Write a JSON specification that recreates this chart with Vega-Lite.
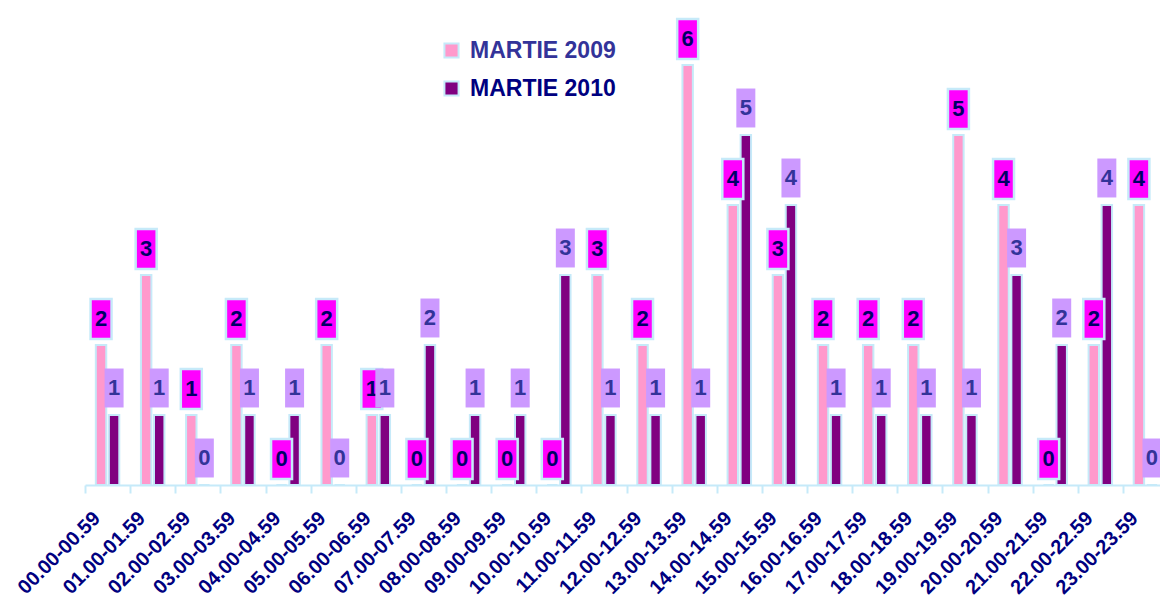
{
  "$schema": "https://vega.github.io/schema/vega-lite/v6.json",
  "autosize": "none",
  "width": 1075,
  "height": 480,
  "padding": {"left": 85, "top": 5, "right": 0, "bottom": 119},
  "background": "white",
  "config": {"view": {"stroke": null}, "font": "Liberation Sans"},
  "data": {"values": [
    {"h": "00.00-00.59", "s": "MARTIE 2009", "v": 2}, {"h": "00.00-00.59", "s": "MARTIE 2010", "v": 1},
    {"h": "01.00-01.59", "s": "MARTIE 2009", "v": 3}, {"h": "01.00-01.59", "s": "MARTIE 2010", "v": 1},
    {"h": "02.00-02.59", "s": "MARTIE 2009", "v": 1}, {"h": "02.00-02.59", "s": "MARTIE 2010", "v": 0},
    {"h": "03.00-03.59", "s": "MARTIE 2009", "v": 2}, {"h": "03.00-03.59", "s": "MARTIE 2010", "v": 1},
    {"h": "04.00-04.59", "s": "MARTIE 2009", "v": 0}, {"h": "04.00-04.59", "s": "MARTIE 2010", "v": 1},
    {"h": "05.00-05.59", "s": "MARTIE 2009", "v": 2}, {"h": "05.00-05.59", "s": "MARTIE 2010", "v": 0},
    {"h": "06.00-06.59", "s": "MARTIE 2009", "v": 1}, {"h": "06.00-06.59", "s": "MARTIE 2010", "v": 1},
    {"h": "07.00-07.59", "s": "MARTIE 2009", "v": 0}, {"h": "07.00-07.59", "s": "MARTIE 2010", "v": 2},
    {"h": "08.00-08.59", "s": "MARTIE 2009", "v": 0}, {"h": "08.00-08.59", "s": "MARTIE 2010", "v": 1},
    {"h": "09.00-09.59", "s": "MARTIE 2009", "v": 0}, {"h": "09.00-09.59", "s": "MARTIE 2010", "v": 1},
    {"h": "10.00-10.59", "s": "MARTIE 2009", "v": 0}, {"h": "10.00-10.59", "s": "MARTIE 2010", "v": 3},
    {"h": "11.00-11.59", "s": "MARTIE 2009", "v": 3}, {"h": "11.00-11.59", "s": "MARTIE 2010", "v": 1},
    {"h": "12.00-12.59", "s": "MARTIE 2009", "v": 2}, {"h": "12.00-12.59", "s": "MARTIE 2010", "v": 1},
    {"h": "13.00-13.59", "s": "MARTIE 2009", "v": 6}, {"h": "13.00-13.59", "s": "MARTIE 2010", "v": 1},
    {"h": "14.00-14.59", "s": "MARTIE 2009", "v": 4}, {"h": "14.00-14.59", "s": "MARTIE 2010", "v": 5},
    {"h": "15.00-15.59", "s": "MARTIE 2009", "v": 3}, {"h": "15.00-15.59", "s": "MARTIE 2010", "v": 4},
    {"h": "16.00-16.59", "s": "MARTIE 2009", "v": 2}, {"h": "16.00-16.59", "s": "MARTIE 2010", "v": 1},
    {"h": "17.00-17.59", "s": "MARTIE 2009", "v": 2}, {"h": "17.00-17.59", "s": "MARTIE 2010", "v": 1},
    {"h": "18.00-18.59", "s": "MARTIE 2009", "v": 2}, {"h": "18.00-18.59", "s": "MARTIE 2010", "v": 1},
    {"h": "19.00-19.59", "s": "MARTIE 2009", "v": 5}, {"h": "19.00-19.59", "s": "MARTIE 2010", "v": 1},
    {"h": "20.00-20.59", "s": "MARTIE 2009", "v": 4}, {"h": "20.00-20.59", "s": "MARTIE 2010", "v": 3},
    {"h": "21.00-21.59", "s": "MARTIE 2009", "v": 0}, {"h": "21.00-21.59", "s": "MARTIE 2010", "v": 2},
    {"h": "22.00-22.59", "s": "MARTIE 2009", "v": 2}, {"h": "22.00-22.59", "s": "MARTIE 2010", "v": 4},
    {"h": "23.00-23.59", "s": "MARTIE 2009", "v": 4}, {"h": "23.00-23.59", "s": "MARTIE 2010", "v": 0}
  ]},
  "encoding": {
    "x": {
      "field": "h", "type": "nominal", "sort": null,
      "scale": {"range": [0, 1083], "paddingInner": 0, "paddingOuter": 0},
      "axis": {
        "title": null, "tickBand": "extent", "labelAngle": -45, "labelAlign": "right", "labelBaseline": "middle",
        "labelFont": "Liberation Sans", "labelFontWeight": "bold", "labelFontSize": 20, "labelColor": "#000080",
        "labelPadding": 22, "labelOffset": -11,
        "domainColor": "#c6eaf9", "domainWidth": 2, "tickColor": "#c6eaf9", "tickWidth": 2, "tickSize": 8
      }
    },
    "xOffset": {"field": "s", "type": "nominal", "scale": {"paddingInner": 0.2, "paddingOuter": 0.83}},
    "y": {"field": "v", "type": "quantitative", "scale": {"domain": [0, 6.857], "nice": false}, "axis": null}
  },
  "layer": [
    {
      "mark": {"type": "bar", "stroke": "#c6eaf9", "strokeWidth": 2},
      "encoding": {
        "color": {
          "field": "s", "type": "nominal",
          "scale": {"domain": ["MARTIE 2009", "MARTIE 2010"], "range": ["#ff99cc", "#800080"]},
          "legend": {
            "title": null, "orient": "none", "legendX": 355, "legendY": 34, "direction": "vertical",
            "symbolType": "square", "symbolSize": 200, "symbolStrokeColor": "#c6eaf9", "symbolStrokeWidth": 2,
            "labelFont": "Liberation Sans", "labelFontSize": 23, "labelFontWeight": "bold",
            "labelColor": {"expr": "datum.label == 'MARTIE 2009' ? '#333399' : '#000080'"},
            "labelOffset": 7, "rowPadding": 14, "symbolOpacity": 1
          }
        }
      }
    },
    {
      "transform": [{"filter": "datum.s == 'MARTIE 2009'"}],
      "mark": {"type": "point", "shape": "M-1,-1.9H1V1.9H-1Z", "size": 441, "filled": true, "fill": "#ff00ff", "stroke": "#c6eaf9", "strokeWidth": 2.5, "opacity": 1, "yOffset": -26}
    },
    {
      "transform": [{"filter": "datum.s == 'MARTIE 2009'"}],
      "mark": {"type": "text", "font": "Liberation Sans", "fontSize": 22, "fontWeight": "bold", "color": "#000066", "baseline": "middle", "yOffset": -26},
      "encoding": {"text": {"field": "v", "type": "quantitative"}}
    },
    {
      "transform": [{"filter": "datum.s == 'MARTIE 2010'"}],
      "mark": {"type": "point", "shape": "M-1,-2.05H1V2.05H-1Z", "size": 361, "filled": true, "fill": "#cc99ff", "strokeWidth": 0, "opacity": 1, "yOffset": -27}
    },
    {
      "transform": [{"filter": "datum.s == 'MARTIE 2010'"}],
      "mark": {"type": "text", "font": "Liberation Sans", "fontSize": 22, "fontWeight": "bold", "color": "#333399", "baseline": "middle", "yOffset": -27},
      "encoding": {"text": {"field": "v", "type": "quantitative"}}
    }
  ]
}
